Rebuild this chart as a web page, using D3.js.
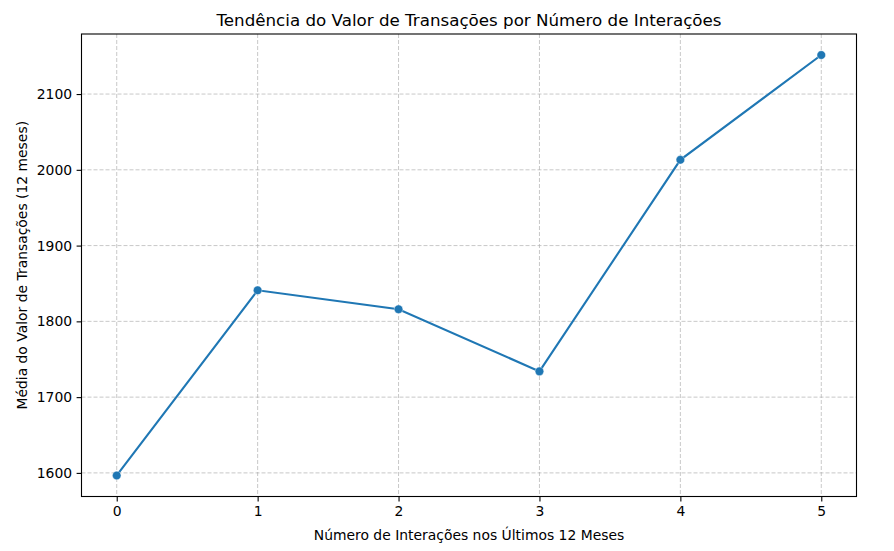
<!DOCTYPE html>
<html>
<head>
<meta charset="utf-8">
<script src="https://cdn.jsdelivr.net/npm/d3@7"></script>
<style>
  body { margin: 0; background: #fff; }
  svg { font-family: "DejaVu Sans", sans-serif; }
</style>
</head>
<body>
<svg id="chart" width="894" height="551"></svg>
<script>
// chart data
var interacoes = [0, 1, 2, 3, 4, 5];
var mediaValor = [1596.6, 1841, 1816, 1734, 2013.2, 2151.5];
var xTicks = [0, 1, 2, 3, 4, 5];
var yTicks = [1600, 1700, 1800, 1900, 2000, 2100];

var svg = d3.select("#chart");
// plot box (note: "top" is taken by window.top, so use other names)
var plotL = 81.5, plotR = 856.5, plotT = 34, plotB = 496.5;

var x = d3.scaleLinear().domain([-0.25, 5.25]).range([plotL, plotR]);
var y = d3.scaleLinear().domain([1568.85, 2179.25]).range([plotB, plotT]);

// grid
svg.append("g").selectAll("line").data(xTicks).enter().append("line")
    .attr("x1", function (d) { return x(d); }).attr("x2", function (d) { return x(d); })
    .attr("y1", plotT).attr("y2", plotB)
    .attr("stroke", "#b0b0b0").attr("stroke-opacity", 0.7)
    .attr("stroke-width", 1).attr("stroke-dasharray", "4,2");
svg.append("g").selectAll("line").data(yTicks).enter().append("line")
    .attr("x1", plotL).attr("x2", plotR)
    .attr("y1", function (d) { return y(d); }).attr("y2", function (d) { return y(d); })
    .attr("stroke", "#b0b0b0").attr("stroke-opacity", 0.7)
    .attr("stroke-width", 1).attr("stroke-dasharray", "4,2");

// axes
var xAxis = d3.axisBottom(x).tickValues(xTicks).tickSize(4.9).tickPadding(4.5).tickFormat(d3.format("d"));
var yAxis = d3.axisLeft(y).tickValues(yTicks).tickSize(4.9).tickPadding(4.5).tickFormat(d3.format("d"));

var gx = svg.append("g").attr("transform", "translate(0," + plotB + ")").call(xAxis);
var gy = svg.append("g").attr("transform", "translate(" + plotL + ",0)").call(yAxis);
[gx, gy].forEach(function (g) {
    g.select(".domain").remove();
    g.selectAll("text").attr("font-size", "13.9px").attr("fill", "#000").attr("font-family", "DejaVu Sans");
    g.selectAll("line").attr("stroke", "#000").attr("stroke-width", 1.1);
});

// frame
svg.append("rect").attr("x", plotL).attr("y", plotT)
    .attr("width", plotR - plotL).attr("height", plotB - plotT)
    .attr("fill", "none").attr("stroke", "#000").attr("stroke-width", 1.1);

// line + markers
var pts = interacoes.map(function (d, i) { return [d, mediaValor[i]]; });
var line = d3.line().x(function (d) { return x(d[0]); }).y(function (d) { return y(d[1]); });
svg.append("path").datum(pts).attr("d", line)
    .attr("fill", "none").attr("stroke", "#1f77b4").attr("stroke-width", 2.1);
svg.append("g").selectAll("circle").data(pts).enter().append("circle")
    .attr("cx", function (d) { return x(d[0]); })
    .attr("cy", function (d) { return y(d[1]); })
    .attr("r", 4.3).attr("fill", "#1f77b4")
    .attr("stroke", "#fff").attr("stroke-width", 0.4);

// texts
svg.append("text").attr("x", (plotL + plotR) / 2).attr("y", 26)
    .attr("text-anchor", "middle").attr("font-size", "16.7px")
    .text("Tendência do Valor de Transações por Número de Interações");
svg.append("text").attr("x", (plotL + plotR) / 2).attr("y", 540)
    .attr("text-anchor", "middle").attr("font-size", "13.9px")
    .text("Número de Interações nos Últimos 12 Meses");
svg.append("text").attr("transform", "translate(27," + ((plotT + plotB) / 2) + ") rotate(-90)")
    .attr("text-anchor", "middle").attr("font-size", "13.9px")
    .text("Média do Valor de Transações (12 meses)");
</script>
</body>
</html>
